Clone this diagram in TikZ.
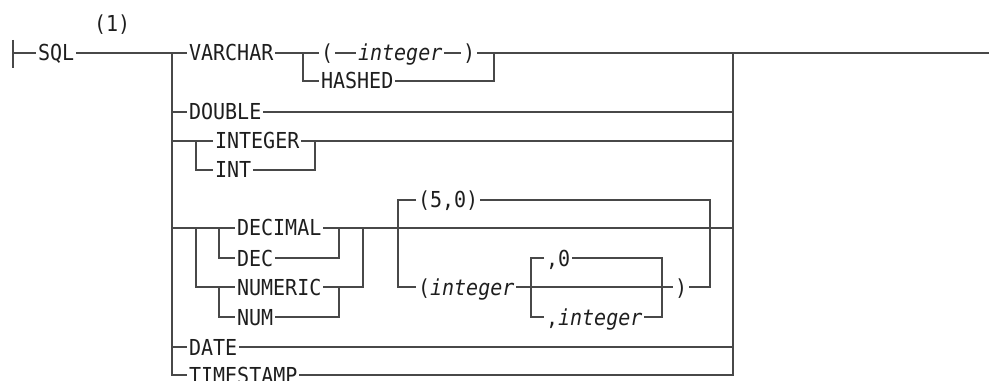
\documentclass[tikz,border=0pt]{standalone}
\usepackage{fontspec}
\setmonofont{DejaVu Sans Mono}[FakeStretch=0.91]

\definecolor{railgray}{RGB}{72,72,72}
\definecolor{inkgray}{RGB}{30,30,30}

\tikzset{every picture/.style={line width=1pt}}
\tikzset{
  kw/.style={anchor=west, inner xsep=1pt, inner ysep=0pt, text height=12pt, text depth=0pt,
    text=inkgray, font=\ttfamily\fontsize{16.5}{19}\selectfont},
  var/.style={kw, font=\ttfamily\itshape\fontsize{16.5}{19}\selectfont},
  rail/.style={draw=railgray}
}

\begin{document}
\begin{tikzpicture}[x=0.75pt,y=0.75pt,yscale=-1,xscale=1]
\useasboundingbox (0,0) rectangle (989,381);

% Text Node
\node[kw] (sql) at (36,53) {SQL};
\node[kw] (note) at (92,24) {(1)};
\node[kw] (varchar) at (187,53) {VARCHAR};
\node[kw] (lpar) at (319,53) {(};
\node[var] (len) at (356,53) {integer};
\node[kw] (rpar) at (461,53) {)};
\node[kw] (hashed) at (319,81) {HASHED};
\node[kw] (double) at (187,112) {DOUBLE};
\node[kw] (integer) at (213,141) {INTEGER};
\node[kw] (int) at (213,170) {INT};
\node[kw] (decimal) at (235,228) {DECIMAL};
\node[kw] (dec) at (235,258) {DEC};
\node[kw] (numeric) at (235,287) {NUMERIC};
\node[kw] (num) at (235,317) {NUM};
\node[kw] (dflt) at (416,200) {(5,0)};
\node[kw] (prec) at (416,287) {(\textit{integer}};
\node[kw] (zero) at (544,258) {,0};
\node[kw] (scale) at (544,317) {,\textit{integer}};
\node[kw] (close) at (673,287) {)};
\node[kw] (date) at (187,347) {DATE};
\node[kw] (timestamp) at (187,375) {TIMESTAMP};

% junctions
\coordinate (start) at (13,53);
\coordinate (lbar) at (172,53);
\coordinate (rbar) at (733,53);
\coordinate (end) at (989,53);
\coordinate (vl) at (303,53);
\coordinate (vr) at (494,53);
\coordinate (il) at (196,141);
\coordinate (ir) at (315,141);
\coordinate (dl) at (196,228);
\coordinate (dil) at (219,228);
\coordinate (dir) at (339,228);
\coordinate (dr) at (363,228);
\coordinate (pl) at (398,228);
\coordinate (pr) at (710,228);
\coordinate (sl) at (531,287);
\coordinate (sr) at (662,287);

%Straight Lines: start bar and main line
\draw[rail] (13,40) -- (13,68);
\draw[rail] (start) -- (sql.west);
\draw[rail] (sql.east) -- (varchar.west);
\draw[rail] (varchar.east) -- (lpar.west);
\draw[rail] (lpar.east) -- (len.west);
\draw[rail] (len.east) -- (rpar.west);
\draw[rail] (rpar.east) -- (end);
\draw[rail] (vl) |- (hashed.west);
\draw[rail] (hashed.east) -| (vr);

%Straight Lines: left and right bars
\draw[rail] (lbar) |- (timestamp.west);
\draw[rail] (rbar) |- (timestamp.east);
\draw[rail] (lbar |- double.west) -- (double.west);
\draw[rail] (lbar |- integer.west) -- (integer.west);
\draw[rail] (lbar |- decimal.west) -- (decimal.west);
\draw[rail] (lbar |- date.west) -- (date.west);
\draw[rail] (double.east) -- (double.east -| rbar);
\draw[rail] (date.east) -- (date.east -| rbar);

%Straight Lines: INTEGER / INT
\draw[rail] (il) |- (int.west);
\draw[rail] (int.east) -| (ir);
\draw[rail] (integer.east) -- (integer.east -| rbar);

%Straight Lines: DECIMAL / DEC / NUMERIC / NUM
\draw[rail] (dl) |- (numeric.west);
\draw[rail] (dil) |- (dec.west);
\draw[rail] (dil |- numeric.west) |- (num.west);
\draw[rail] (dec.east) -| (dir);
\draw[rail] (num.east) -| (dir |- numeric.west);
\draw[rail] (numeric.east) -| (dr);
\draw[rail] (decimal.east) -- (decimal.east -| rbar);

%Straight Lines: precision and scale
\draw[rail] (dflt.west) -| (pl) |- (prec.west);
\draw[rail] (dflt.east) -| (pr) |- (close.east);
\draw[rail] (prec.east) -- (close.west);
\draw[rail] (zero.west) -| (sl) |- (scale.west);
\draw[rail] (zero.east) -| (sr) |- (scale.east);

\end{tikzpicture}
\end{document}
